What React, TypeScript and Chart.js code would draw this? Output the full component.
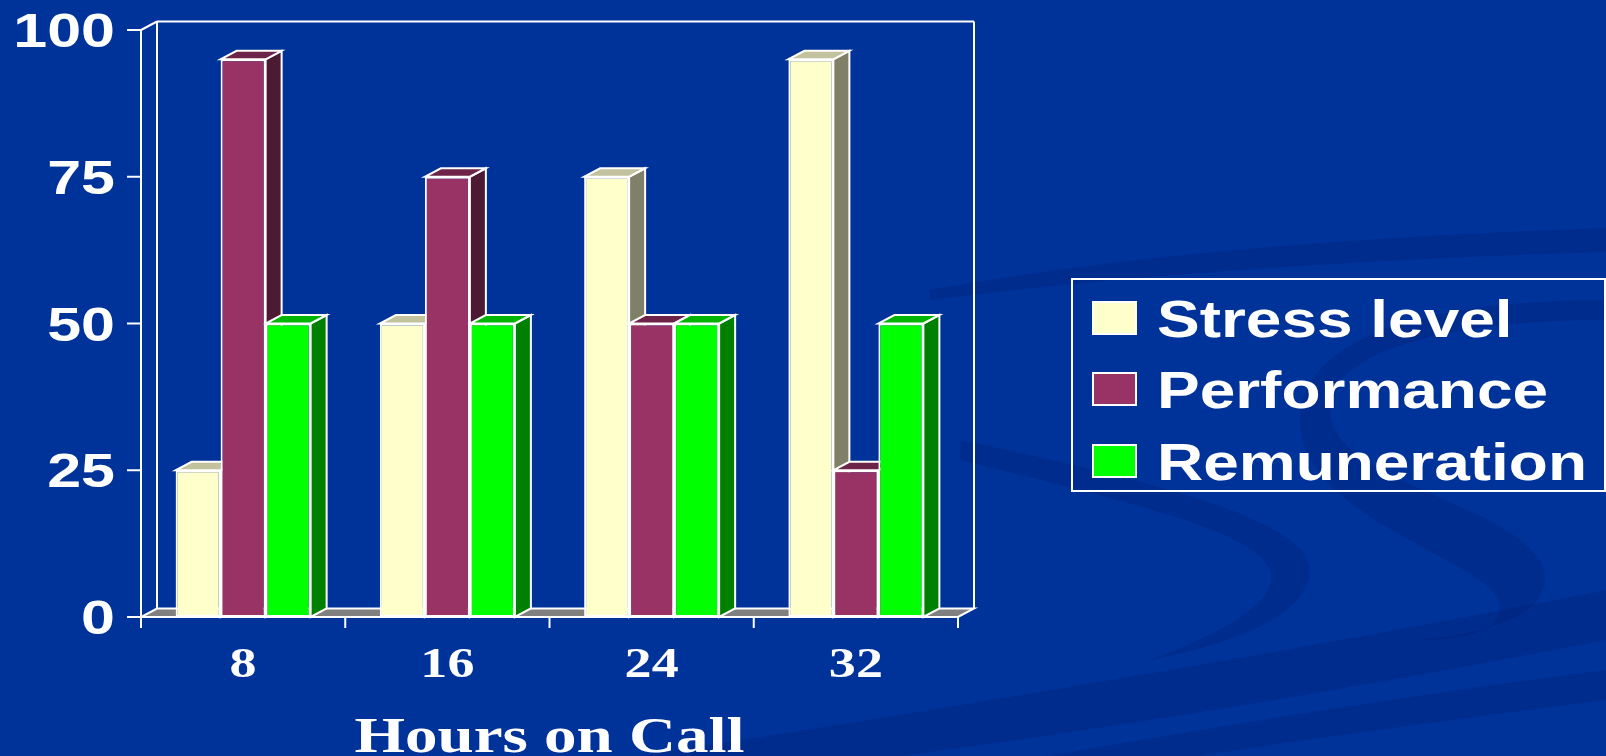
import React, { useEffect, useRef } from "react";
import { Chart, registerables } from "chart.js";

Chart.register(...registerables);

const categories = ["8", "16", "24", "32"];
const seriesNames = ["Stress level", "Performance", "Remuneration"];
const stressLevel = [25, 50, 75, 95];
const performance = [95, 75, 50, 25];
const remuneration = [50, 50, 50, 50];
const yTicks = [0, 25, 50, 75, 100];
const xTitle = "Hours on Call";

const FRONT = ["#FFFFCC", "#993366", "#00FF00"];
const TOP = ["#C2C29E", "#6E2449", "#00B400"];
const SIDE = ["#808068", "#4D1A33", "#008000"];
const BG = "#003399";
const DX = 16;
const DY = 8.5;
const SANS = '"Liberation Sans", Arial, sans-serif';
const SERIF = '"Liberation Serif", "Times New Roman", serif';

function poly(ctx: CanvasRenderingContext2D, pts: number[][], fill: string | null, stroke: string | null, lw = 2) {
  ctx.beginPath();
  ctx.moveTo(pts[0][0], pts[0][1]);
  for (let i = 1; i < pts.length; i++) ctx.lineTo(pts[i][0], pts[i][1]);
  ctx.closePath();
  if (fill) {
    ctx.fillStyle = fill;
    ctx.fill();
  }
  if (stroke) {
    ctx.strokeStyle = stroke;
    ctx.lineWidth = lw;
    ctx.lineJoin = "miter";
    ctx.stroke();
  }
}

function line(ctx: CanvasRenderingContext2D, x1: number, y1: number, x2: number, y2: number, lw = 2) {
  ctx.beginPath();
  ctx.moveTo(x1, y1);
  ctx.lineTo(x2, y2);
  ctx.strokeStyle = "#FFFFFF";
  ctx.lineWidth = lw;
  ctx.stroke();
}

function stretchedText(ctx: CanvasRenderingContext2D, text: string, x: number, y: number, font: string, align: CanvasTextAlign, sx: number) {
  ctx.save();
  ctx.translate(x, y);
  ctx.scale(sx, 1);
  ctx.font = font;
  ctx.fillStyle = "#FFFFFF";
  ctx.textAlign = align;
  ctx.textBaseline = "alphabetic";
  ctx.fillText(text, 0, 0);
  ctx.restore();
}

const backgroundPlugin = {
  id: "slideBackground",
  beforeDraw(chart: any) {
    const ctx: CanvasRenderingContext2D = chart.ctx;
    const w = chart.width;
    const h = chart.height;
    ctx.save();
    ctx.fillStyle = BG;
    ctx.fillRect(0, 0, w, h);
    ctx.fillStyle = "rgba(0, 30, 110, 0.28)";
    // thin band across the top right
    ctx.beginPath();
    ctx.moveTo(930, 290);
    ctx.bezierCurveTo(1150, 250, 1400, 235, 1606, 228);
    ctx.lineTo(1606, 252);
    ctx.bezierCurveTo(1400, 258, 1150, 272, 930, 300);
    ctx.closePath();
    ctx.fill();
    // big swirl
    ctx.beginPath();
    ctx.moveTo(1606, 300);
    ctx.bezierCurveTo(1420, 300, 1300, 340, 1300, 420);
    ctx.bezierCurveTo(1300, 500, 1420, 540, 1480, 580);
    ctx.bezierCurveTo(1520, 610, 1500, 640, 1420, 640);
    ctx.bezierCurveTo(1520, 630, 1560, 600, 1540, 560);
    ctx.bezierCurveTo(1500, 500, 1330, 480, 1330, 410);
    ctx.bezierCurveTo(1330, 350, 1450, 320, 1606, 320);
    ctx.closePath();
    ctx.fill();
    ctx.beginPath();
    ctx.moveTo(960, 440);
    ctx.bezierCurveTo(1150, 480, 1310, 520, 1310, 570);
    ctx.bezierCurveTo(1310, 610, 1250, 640, 1150, 660);
    ctx.bezierCurveTo(1230, 630, 1280, 600, 1270, 570);
    ctx.bezierCurveTo(1255, 530, 1120, 500, 960, 460);
    ctx.closePath();
    ctx.fill();
    // bottom bands
    ctx.beginPath();
    ctx.moveTo(640, 756);
    ctx.bezierCurveTo(1000, 700, 1300, 650, 1606, 590);
    ctx.lineTo(1606, 640);
    ctx.bezierCurveTo(1350, 690, 1100, 730, 900, 756);
    ctx.closePath();
    ctx.fill();
    ctx.beginPath();
    ctx.moveTo(1050, 756);
    ctx.bezierCurveTo(1250, 720, 1450, 690, 1606, 670);
    ctx.lineTo(1606, 700);
    ctx.bezierCurveTo(1450, 720, 1300, 740, 1200, 756);
    ctx.closePath();
    ctx.fill();
    ctx.restore();
  },
};

const threeDPlugin = {
  id: "threeD",
  beforeDatasetsDraw(chart: any) {
    const ctx: CanvasRenderingContext2D = chart.ctx;
    const { left, right } = chart.chartArea;
    const ys = chart.scales.y;
    const xs = chart.scales.x;
    const y0 = ys.getPixelForValue(0);
    const yTop = ys.getPixelForValue(100);
    ctx.save();
    // back wall outline
    line(ctx, left + DX, yTop - DY, right + DX, yTop - DY);
    line(ctx, left + DX, yTop - DY, left + DX, y0 - DY);
    line(ctx, right + DX, yTop - DY, right + DX, y0 - DY);
    // side wall
    line(ctx, left, yTop, left + DX, yTop - DY);
    line(ctx, left, yTop, left, y0 + 11);
    // floor
    poly(ctx, [[left, y0], [right, y0], [right + DX, y0 - DY], [left + DX, y0 - DY]], "#808080", "#FFFFFF");
    // y ticks
    yTicks.forEach((v) => {
      const py = ys.getPixelForValue(v);
      line(ctx, left - 14, py, left, py);
    });
    // x ticks at category boundaries
    const half = (xs.getPixelForValue(1) - xs.getPixelForValue(0)) / 2;
    for (let i = 0; i <= categories.length; i++) {
      const bx = i < categories.length ? xs.getPixelForValue(i) - half : xs.getPixelForValue(categories.length - 1) + half;
      line(ctx, bx, y0, bx, y0 + 11);
    }
    // side and top faces, painted left to right
    const nd = chart.data.datasets.length;
    for (let i = 0; i < categories.length; i++) {
      for (let d = 0; d < nd; d++) {
        const el = chart.getDatasetMeta(d).data[i];
        const p = el.getProps(["x", "y", "base", "width"], true);
        const L = p.x - p.width / 2;
        const R = p.x + p.width / 2;
        const t = p.y;
        const b = p.base;
        poly(ctx, [[R, t], [R + DX, t - DY], [R + DX, b - DY], [R, b]], SIDE[d], "#FFFFFF");
        poly(ctx, [[L, t], [R, t], [R + DX, t - DY], [L + DX, t - DY]], TOP[d], "#FFFFFF");
      }
    }
    ctx.restore();
  },
  afterDraw(chart: any) {
    const ctx: CanvasRenderingContext2D = chart.ctx;
    const { left, right } = chart.chartArea;
    const ys = chart.scales.y;
    const xs = chart.scales.x;
    const y0 = ys.getPixelForValue(0);
    // y tick labels
    yTicks.forEach((v) => {
      const py = ys.getPixelForValue(v);
      stretchedText(ctx, String(v), left - 26, py + 17, `bold 48px ${SANS}`, "right", 1.27);
    });
    // x tick labels
    categories.forEach((c, i) => {
      stretchedText(ctx, c, xs.getPixelForValue(i), y0 + 60, `bold 43px ${SERIF}`, "center", 1.256);
    });
    // x title
    stretchedText(ctx, xTitle, (left + right) / 2, y0 + 135, `bold 51px ${SERIF}`, "center", 1.275);
    // legend
    ctx.save();
    ctx.strokeStyle = "#FFFFFF";
    ctx.lineWidth = 2;
    ctx.strokeRect(1072, 279, 533, 212);
    const rows = [318, 389, 461];
    chart.data.datasets.forEach((ds: any, d: number) => {
      const cy = rows[d];
      ctx.fillStyle = FRONT[d];
      ctx.fillRect(1093, cy - 16, 43, 32);
      ctx.strokeStyle = "#FFFFFF";
      ctx.lineWidth = 2;
      ctx.strokeRect(1093, cy - 16, 43, 32);
      stretchedText(ctx, ds.label, 1157, cy + 18.5, `bold 52px ${SANS}`, "left", 1.23);
    });
    ctx.restore();
  },
};

export default function App() {
  const canvasRef = useRef<HTMLCanvasElement | null>(null);

  useEffect(() => {
    if (!canvasRef.current) return;
    const seriesData = [stressLevel, performance, remuneration];
    const chart = new Chart(canvasRef.current, {
      type: "bar",
      data: {
        labels: categories,
        datasets: seriesNames.map((name, d) => ({
          label: name,
          data: seriesData[d],
          backgroundColor: FRONT[d],
          borderColor: "#FFFFFF",
          borderWidth: 2,
          borderSkipped: false,
          categoryPercentage: 0.661,
          barPercentage: 1.0,
        })),
      },
      options: {
        animation: false,
        responsive: true,
        maintainAspectRatio: false,
        layout: { padding: { left: 141, right: 648, top: 30, bottom: 139 } },
        plugins: {
          legend: { display: false },
          tooltip: { enabled: false },
          title: { display: false },
        },
        scales: {
          x: { type: "category", display: false, offset: true, grid: { display: false } },
          y: { display: false, min: 0, max: 100, ticks: { stepSize: 25 }, grid: { display: false } },
        },
      },
      plugins: [backgroundPlugin, threeDPlugin],
    });
    return () => chart.destroy();
  }, []);

  return (
    <div style={{ position: "fixed", left: 0, top: 0, width: 1606, height: 756, background: BG }}>
      <canvas ref={canvasRef} />
    </div>
  );
}
